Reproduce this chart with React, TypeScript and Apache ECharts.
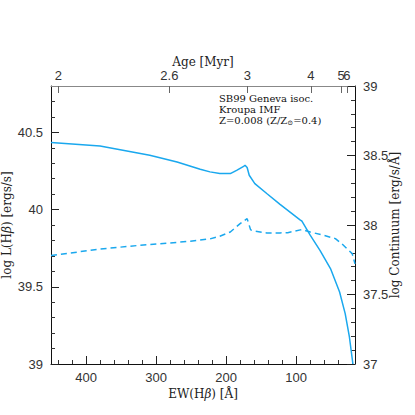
import React, { useEffect, useRef } from "react";
import * as echarts from "echarts";

// Solid: log L(Hbeta) vs EW(Hbeta)
const ewSolid = [450, 380, 309, 270, 237, 223, 209, 194, 185, 175, 173, 170, 167, 159, 142, 123, 94, 92, 80, 66, 51, 38, 30, 24, 19];
const lhbSolid = [40.434, 40.412, 40.352, 40.308, 40.261, 40.244, 40.233, 40.233, 40.254, 40.28, 40.287, 40.272, 40.222, 40.168, 40.104, 40.034, 39.931, 39.926, 39.834, 39.736, 39.618, 39.466, 39.326, 39.175, 39.0];

// Dashed: log Continuum vs EW(Hbeta)
const ewDashed = [450, 380, 323, 309, 251, 223, 209, 194, 180, 170, 165, 158, 142, 123, 112, 94, 92, 80, 61, 44, 35, 25, 20, 16];
const contDashed = [37.78, 37.827, 37.854, 37.859, 37.883, 37.9, 37.919, 37.95, 38.01, 38.046, 37.965, 37.955, 37.943, 37.943, 37.945, 37.965, 37.967, 37.95, 37.926, 37.902, 37.866, 37.818, 37.794, 37.72];

// Top axis: age [Myr] ticks placed at the corresponding EW(Hbeta)
const ageLabels = ["2", "2.6", "3", "4", "5"];
const ageEW = [439.6, 281, 169.6, 79, 35.7];
const ageLabelsB = ["6"];
const ageEWB = [27.6];

const ewMajor = [100, 200, 300, 400];
const ewMinor = [20, 40, 60, 80, 120, 140, 160, 180, 220, 240, 260, 280, 320, 340, 360, 380, 420, 440];
const leftMajor = [39, 39.5, 40, 40.5];
const leftMinor = [39.1, 39.2, 39.3, 39.4, 39.6, 39.7, 39.8, 39.9, 40.1, 40.2, 40.3, 40.4, 40.6, 40.7];
const rightMajor = [37, 37.5, 38, 38.5, 39];
const rightMinor = [37.1, 37.2, 37.3, 37.4, 37.6, 37.7, 37.8, 37.9, 38.1, 38.2, 38.3, 38.4, 38.6, 38.7, 38.8, 38.9];

const EW_MIN = 16;
const EW_MAX = 450;
const COLOR = "#1aa8ee";
const SERIF = "DejaVu Serif";
const SANS = "Liberation Sans";

function nearestLabel(v: number, vals: number[], labels: string[]) {
  let best = 0;
  for (let i = 1; i < vals.length; i++) if (Math.abs(vals[i] - v) < Math.abs(vals[best] - v)) best = i;
  return labels[best];
}

export default function App() {
  const ref = useRef<HTMLDivElement>(null);
  useEffect(() => {
    if (!ref.current) return;
    const chart = echarts.init(ref.current, null, { renderer: "svg" });
    const labelStyle = { color: "#333", fontFamily: SANS, fontSize: 13 };
    const tickLine = { color: "#222", width: 1 };
    const minorLine = { color: "#333", width: 1 };
    const nameStyle = { fontFamily: SERIF, fontSize: 12, color: "#222" };
    const nameRich = { i: { fontFamily: SERIF, fontStyle: "italic", fontSize: 12, color: "#222" } };
    const topAgeAxis = (vals: number[], labels: string[], withLine: boolean, withName: boolean) => ({
      type: "value", position: "top", min: EW_MIN, max: EW_MAX, inverse: true,
      axisLine: { show: withLine, onZero: false, lineStyle: { color: "#888", width: 1.2 } },
      axisTick: { show: true, inside: true, length: 7, customValues: vals, lineStyle: { color: "#666" } },
      axisLabel: {
        show: true, customValues: vals, margin: 4, hideOverlap: false, ...labelStyle,
        formatter: (v: number) => nearestLabel(v, vals, labels),
      },
      splitLine: { show: false },
      ...(withName
        ? { name: "Age [Myr]", nameLocation: "middle", nameGap: 18, nameMoveOverlap: false, nameTextStyle: nameStyle }
        : {}),
    });
    const option: any = {
      animation: false,
      backgroundColor: "#fff",
      grid: { left: 51, right: 60, top: 86, bottom: 51, containLabel: false, outerBoundsMode: "none" },
      xAxis: [
        {
          type: "value", position: "bottom", min: EW_MIN, max: EW_MAX, inverse: true,
          axisLine: { show: true, onZero: false, lineStyle: { color: "#111", width: 1 } },
          axisTick: { show: true, inside: true, length: 8, customValues: ewMajor, lineStyle: tickLine },
          axisLabel: { show: true, customValues: ewMajor, margin: 7, ...labelStyle },
          splitLine: { show: false },
          name: "EW(H{i|β}) [Å]", nameLocation: "middle", nameGap: 24, nameMoveOverlap: false,
          nameTextStyle: { ...nameStyle, rich: nameRich },
        },
        {
          type: "value", position: "bottom", min: EW_MIN, max: EW_MAX, inverse: true,
          axisLine: { show: false, onZero: false },
          axisTick: { show: true, inside: true, length: 4, customValues: ewMinor, lineStyle: minorLine },
          axisLabel: { show: false },
          splitLine: { show: false },
        },
        topAgeAxis(ageEW, ageLabels, true, true),
        topAgeAxis(ageEWB, ageLabelsB, false, false),
      ],
      yAxis: [
        {
          type: "value", position: "left", min: 39, max: 40.8,
          axisLine: { show: true, onZero: false, lineStyle: { color: "#111", width: 1 } },
          axisTick: { show: true, inside: true, length: 8, customValues: leftMajor, lineStyle: tickLine },
          axisLabel: { show: true, customValues: leftMajor, margin: 8, ...labelStyle },
          splitLine: { show: false },
          name: "log L(H{i|β}) [ergs/s]", nameLocation: "middle", nameGap: 38, nameRotate: 90, nameMoveOverlap: false,
          nameTextStyle: { ...nameStyle, rich: nameRich },
        },
        {
          type: "value", position: "left", min: 39, max: 40.8,
          axisLine: { show: false, onZero: false },
          axisTick: { show: true, inside: true, length: 4, customValues: leftMinor, lineStyle: minorLine },
          axisLabel: { show: false },
          splitLine: { show: false },
        },
        {
          type: "value", position: "right", min: 37, max: 39,
          axisLine: { show: true, onZero: false, lineStyle: { color: "#111", width: 1 } },
          axisTick: { show: true, inside: true, length: 8, customValues: rightMajor, lineStyle: tickLine },
          axisLabel: { show: true, customValues: rightMajor, margin: 8, ...labelStyle },
          splitLine: { show: false },
          name: "log Continuum [erg/s/Å]", nameLocation: "middle", nameGap: 34, nameRotate: 90, nameMoveOverlap: false,
          nameTextStyle: nameStyle,
        },
        {
          type: "value", position: "right", min: 37, max: 39,
          axisLine: { show: false, onZero: false },
          axisTick: { show: true, inside: true, length: 4, customValues: rightMinor, lineStyle: minorLine },
          axisLabel: { show: false },
          splitLine: { show: false },
        },
      ],
      series: [
        {
          type: "line", xAxisIndex: 0, yAxisIndex: 0, symbol: "none", smooth: false,
          data: ewSolid.map((x, i) => [x, lhbSolid[i]]),
          lineStyle: { color: COLOR, width: 1.5 },
        },
        {
          type: "line", xAxisIndex: 0, yAxisIndex: 2, symbol: "none", smooth: false,
          data: ewDashed.map((x, i) => [x, contDashed[i]]),
          lineStyle: { color: COLOR, width: 1.5, type: [6, 4] },
        },
      ],
      graphic: [
        {
          type: "text", left: 219, top: 93,
          style: {
            text: "SB99 Geneva isoc.\nKroupa IMF\nZ=0.008 (Z/Z{sub|⊙}=0.4)",
            font: `10px "${SERIF}"`, fill: "#111", lineHeight: 11,
            rich: { sub: { fontSize: 7, fontFamily: SERIF, verticalAlign: "bottom", padding: [4, 0, 0, 0], fill: "#111" } },
          },
        },
      ],
    };
    chart.setOption(option);
    return () => chart.dispose();
  }, []);
  return <div ref={ref} style={{ position: "fixed", left: 0, top: 0, width: 415, height: 415 }} />;
}
